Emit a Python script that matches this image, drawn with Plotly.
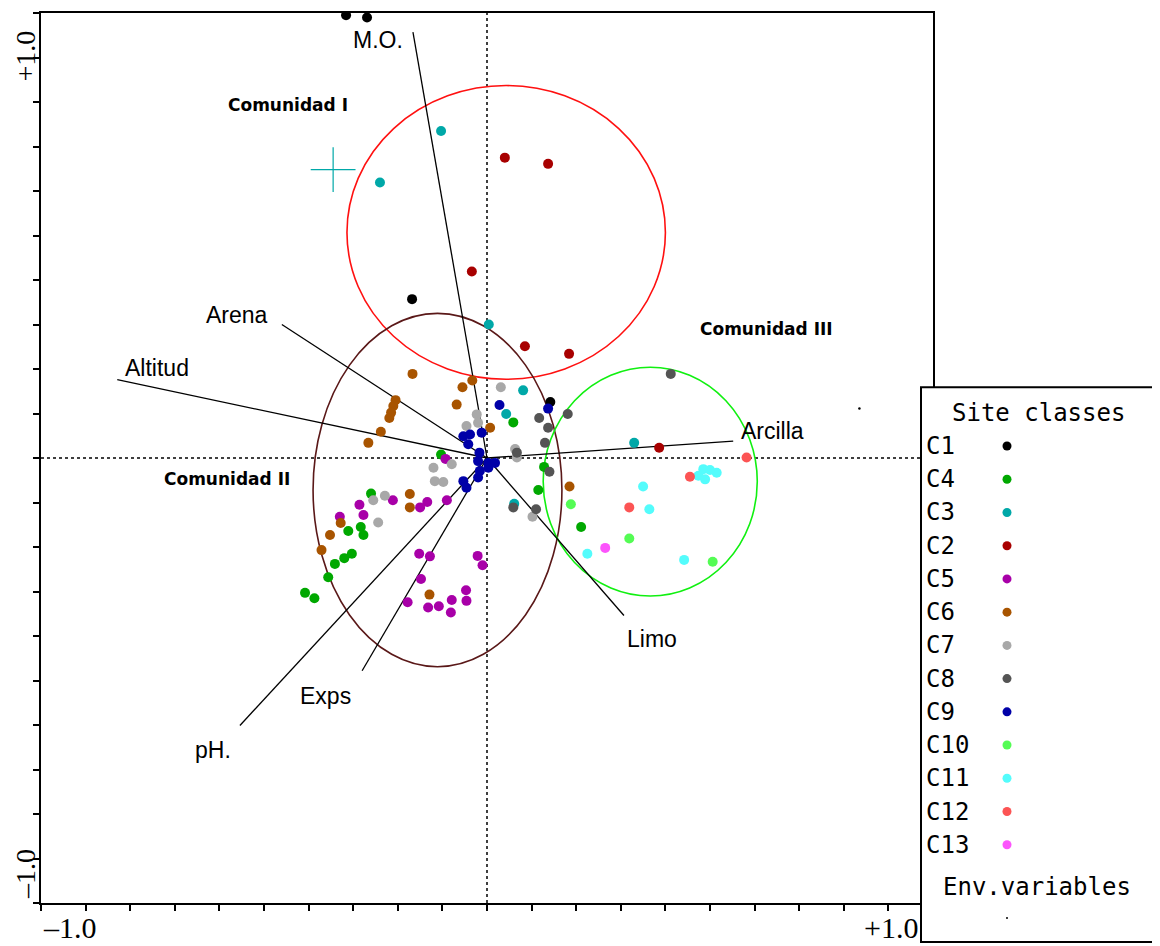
import plotly.graph_objects as go

W, H = 1160, 946
L, R, T, B = 41, 933, 11, 903  # plot-area pixel box (page coordinates)
BODY = 8                        # default page margin around the figure

# ---------------- data (axis units) ----------------
CLASS_NAMES = ["C1", "C4", "C3", "C2", "C5", "C6", "C7", "C8", "C9", "C10", "C11", "C12", "C13"]
CLASS_COLORS = ["#000000", "#00A800", "#00A8A8", "#A80000", "#A800A8", "#A85400", "#A8A8A8",
                "#545454", "#0000A8", "#54FC54", "#54FCFC", "#FC5454", "#FC54FC"]

C1_X = [-0.316, -0.269, -0.168, 0.142]
C1_Y = [0.995, 0.990, 0.357, 0.126]

C4_X = [0.059, -0.103, 0.128, 0.115, 0.211, -0.260, -0.311, -0.283, -0.277, -0.303, -0.320, -0.341, -0.356, -0.408, -0.387]
C4_Y = [0.080, 0.008, -0.020, -0.072, -0.155, -0.080, -0.164, -0.155, -0.173, -0.215, -0.225, -0.238, -0.268, -0.303, -0.315]

C3_X = [-0.103, -0.240, 0.004, 0.081, 0.043, 0.330, 0.061]
C3_Y = [0.735, 0.619, 0.300, 0.152, 0.099, 0.034, -0.103]

C2_X = [0.040, 0.137, -0.034, 0.085, 0.184, 0.386]
C2_Y = [0.675, 0.661, 0.419, 0.251, 0.234, 0.023]

C5_X = [-0.093, -0.090, -0.134, -0.150, -0.211, -0.286, -0.277, -0.330, -0.152, -0.128, -0.021, -0.010, -0.148, -0.047, -0.046, -0.079, -0.178, -0.132, -0.108, -0.081]
C5_Y = [-0.002, -0.095, -0.099, -0.111, -0.095, -0.105, -0.128, -0.132, -0.215, -0.221, -0.220, -0.241, -0.272, -0.297, -0.321, -0.319, -0.324, -0.336, -0.333, -0.347]

C6_X = [-0.167, -0.033, -0.055, -0.205, -0.210, -0.215, -0.219, -0.238, -0.266, -0.068, 0.007, 0.185, -0.173, -0.173, -0.328, -0.352, -0.371, -0.129]
C6_Y = [0.189, 0.174, 0.159, 0.130, 0.117, 0.102, 0.090, 0.059, 0.034, 0.120, 0.068, -0.064, -0.081, -0.111, -0.146, -0.173, -0.207, -0.307]

C7_X = [0.031, -0.023, -0.046, -0.020, 0.063, 0.067, -0.079, -0.120, -0.117, -0.098, -0.255, -0.229, -0.244, 0.102]
C7_Y = [0.159, 0.098, 0.072, 0.079, 0.020, 0.001, -0.014, -0.022, -0.052, -0.054, -0.095, -0.085, -0.145, -0.132]

C8_X = [0.412, 0.181, 0.117, 0.137, 0.130, 0.067, 0.140, 0.110, 0.059]
C8_Y = [0.189, 0.099, 0.090, 0.068, 0.034, 0.012, -0.031, -0.115, -0.111]

C9_X = [0.028, 0.137, -0.053, -0.038, -0.012, -0.042, -0.017, -0.020, 0.003, 0.018, -0.016, 0.003, -0.020, -0.053, -0.046]
C9_Y = [0.119, 0.111, 0.049, 0.053, 0.057, 0.031, 0.012, -0.007, -0.011, -0.011, -0.029, -0.022, -0.044, -0.052, -0.067]

C10_X = [0.188, 0.319, 0.506]
C10_Y = [-0.104, -0.181, -0.233]

C11_X = [0.485, 0.474, 0.489, 0.515, 0.500, 0.350, 0.364, 0.225, 0.442]
C11_Y = [-0.025, -0.040, -0.048, -0.033, -0.027, -0.064, -0.115, -0.215, -0.229]

C12_X = [0.582, 0.455, 0.319]
C12_Y = [0.001, -0.042, -0.111]

C13_X = [0.265]
C13_Y = [-0.202]

CLASS_X = [C1_X, C4_X, C3_X, C2_X, C5_X, C6_X, C7_X, C8_X, C9_X, C10_X, C11_X, C12_X, C13_X]
CLASS_Y = [C1_Y, C4_Y, C3_Y, C2_Y, C5_Y, C6_Y, C7_Y, C8_Y, C9_Y, C10_Y, C11_Y, C12_Y, C13_Y]

# environmental variables (arrow tips)
ENV_NAMES = ["M.O.", "Arena", "Altitud", "Arcilla", "Limo", "Exps", "pH."]
ENV_X = [-0.166, -0.460, -0.829, 0.552, 0.307, -0.280, -0.554]
ENV_Y = [0.957, 0.300, 0.176, 0.038, -0.354, -0.478, -0.601]

# community ellipses: centre and semi-axes
COMM_NAMES = ["Comunidad I", "Comunidad II", "Comunidad III"]
COMM_CX = [0.043, -0.111, 0.366]
COMM_CY = [0.507, -0.072, -0.053]
COMM_RX = [0.357, 0.279, 0.240]
COMM_RY = [0.330, 0.397, 0.257]

# centroid cross and a lone env-symbol dot
CROSS_X, CROSS_Y = [-0.345], [0.648]
DOT_X, DOT_Y = [0.835], [0.111]

# ---------------- styling / layout ----------------
ENV_LABEL_POS = [(-0.244, 0.939), (-0.561, 0.322), (-0.740, 0.202), (0.640, 0.061),
                 (0.370, -0.406), (-0.361, -0.534), (-0.614, -0.657)]
COMM_LABEL_POS = [(-0.446, 0.794), (-0.583, -0.047), (0.627, 0.289)]
COMM_COLORS = ["#FF1010", "#5A1818", "#10F010"]

def pxx(px):
    return (px - L) / (R - L)

def pxy(py):
    return (B - py) / (B - T)

fig = go.Figure()

# env lines from origin
for name, ex, ey in zip(ENV_NAMES, ENV_X, ENV_Y):
    fig.add_trace(go.Scatter(x=[0, ex], y=[0, ey], mode="lines",
                             line=dict(color="#000000", width=1.3),
                             hoverinfo="skip", showlegend=False))

# site points
for name, color, xs, ys in zip(CLASS_NAMES, CLASS_COLORS, CLASS_X, CLASS_Y):
    fig.add_trace(go.Scatter(x=xs, y=ys, mode="markers", name=name,
                             marker=dict(color=color, size=10, line=dict(width=0)),
                             showlegend=False))

fig.add_trace(go.Scatter(x=CROSS_X, y=CROSS_Y, mode="markers",
                         marker=dict(symbol="cross-thin", size=32,
                                     line=dict(color="#00A8A8", width=1.2)),
                         showlegend=False, hoverinfo="skip"))
fig.add_trace(go.Scatter(x=DOT_X, y=DOT_Y, mode="markers",
                         marker=dict(color="#000000", size=2.5),
                         showlegend=False, hoverinfo="skip"))

shapes = []
# dotted centre lines
shapes.append(dict(type="line", xref="x", yref="paper", x0=0, x1=0, y0=0, y1=1,
                   line=dict(color="#000000", width=1.5, dash="3px,3px"), layer="below"))
shapes.append(dict(type="line", xref="paper", yref="y", x0=0, x1=1, y0=0, y1=0,
                   line=dict(color="#000000", width=1.5, dash="3px,3px"), layer="below"))
# ellipses
for cx, cy, rx, ry, col in zip(COMM_CX, COMM_CY, COMM_RX, COMM_RY, COMM_COLORS):
    shapes.append(dict(type="circle", xref="x", yref="y",
                       x0=cx - rx, x1=cx + rx, y0=cy - ry, y1=cy + ry,
                       line=dict(color=col, width=1.6), layer="below"))

# legend box
shapes.append(dict(type="rect", xref="paper", yref="paper",
                   x0=pxx(921), x1=pxx(1158), y0=pxy(942), y1=pxy(386),
                   line=dict(color="#000000", width=2), fillcolor="#FFFFFF", layer="above"))

annotations = []
row0, rowstep = 445, 33.3
legfont = dict(family="DejaVu Sans Mono", size=24, color="#000000")
for i, (name, color) in enumerate(zip(CLASS_NAMES, CLASS_COLORS)):
    yy = row0 + i * rowstep
    annotations.append(dict(xref="paper", yref="paper", x=pxx(924), y=pxy(yy),
                            xanchor="left", yanchor="middle", text=name, showarrow=False,
                            font=legfont))
    shapes.append(dict(type="circle", xref="paper", yref="paper",
                       xsizemode="pixel", ysizemode="pixel",
                       xanchor=pxx(1007), yanchor=pxy(yy),
                       x0=-4.5, x1=4.5, y0=-4.5, y1=4.5,
                       fillcolor=color, line=dict(width=0), layer="above"))

annotations.append(dict(xref="paper", yref="paper", x=pxx(1038), y=pxy(412),
                        xanchor="center", yanchor="middle", text="Site classes", showarrow=False,
                        font=legfont))
annotations.append(dict(xref="paper", yref="paper", x=pxx(1037), y=pxy(887),
                        xanchor="center", yanchor="middle", text="Env.variables", showarrow=False,
                        font=legfont))
shapes.append(dict(type="circle", xref="paper", yref="paper",
                   xsizemode="pixel", ysizemode="pixel",
                   xanchor=pxx(1007), yanchor=pxy(918),
                   x0=-1, x1=1, y0=-1, y1=1,
                   fillcolor="#000000", line=dict(width=0), layer="above"))

# env variable labels
for name, (lx, ly) in zip(ENV_NAMES, ENV_LABEL_POS):
    annotations.append(dict(x=lx, y=ly, xref="x", yref="y", text=name, showarrow=False,
                            xanchor="center", yanchor="middle",
                            font=dict(family="Liberation Sans", size=23, color="#000000")))

# community labels
for name, (lx, ly) in zip(COMM_NAMES, COMM_LABEL_POS):
    annotations.append(dict(x=lx, y=ly, xref="x", yref="y", text="<b>%s</b>" % name,
                            showarrow=False, xanchor="center", yanchor="middle",
                            font=dict(family="DejaVu Sans", size=17, color="#000000")))

# axis end labels
tickfont = dict(family="Liberation Serif", size=30, color="#000000")
ytickfont = dict(family="Liberation Serif", size=28, color="#000000")
annotations += [
    dict(x=-1, y=-1, xref="x", yref="y", text="\u20131.0", showarrow=False,
         xanchor="left", yanchor="top", yshift=-6, font=tickfont),
    dict(x=1, y=-1, xref="x", yref="y", text="+1.0", showarrow=False,
         xanchor="right", yanchor="top", yshift=-6, xshift=-13, font=tickfont),
    dict(x=-1, y=1, xref="x", yref="y", text="+1.0", showarrow=False, textangle=-90,
         xanchor="center", yanchor="top", xshift=-16, yshift=-16, font=ytickfont),
    dict(x=-1, y=-1, xref="x", yref="y", text="\u20131.0", showarrow=False, textangle=-90,
         xanchor="center", yanchor="bottom", xshift=-16, yshift=2, font=ytickfont),
]

axis_common = dict(range=[-1, 1], showgrid=False, zeroline=False, showticklabels=False,
                   ticks="outside", ticklen=6, tickwidth=1.5, tickcolor="#000000",
                   dtick=0.1, tick0=0, showline=True, linecolor="#000000", linewidth=2,
                   mirror=True, fixedrange=True)

ml, mt = L - BODY, T - BODY
pw, ph = R - L, B - T
fig.update_layout(
    width=W, height=H, autosize=False,
    margin=dict(l=ml, r=W - ml - pw, t=mt, b=H - mt - ph, pad=0),
    paper_bgcolor="#FFFFFF", plot_bgcolor="#FFFFFF",
    xaxis=axis_common, yaxis=axis_common,
    shapes=shapes, annotations=annotations, showlegend=False,
)

fig.write_html("out.html")
